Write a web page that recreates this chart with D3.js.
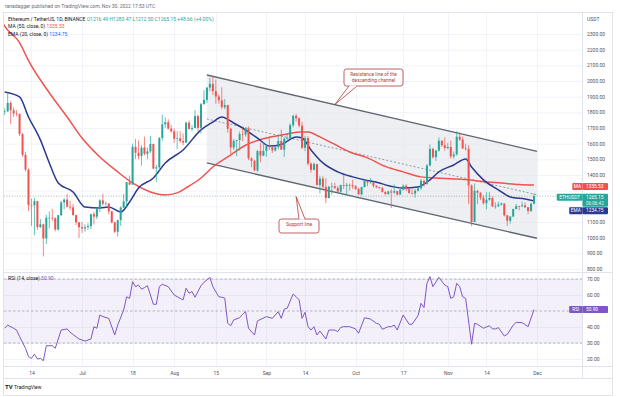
<!DOCTYPE html>
<html>
<head>
<meta charset="utf-8">
<script src="https://cdn.jsdelivr.net/npm/d3@7"></script>
<style>
  body { margin: 0; background: #fff; }
  svg text { font-family: Roboto, "Liberation Sans", sans-serif; }
</style>
</head>
<body>
<svg id="chart" width="620" height="397"></svg>
<script>
// daily candles: [date, open, high, low, close]
const candles = [
  ["06-05",1803,1825,1783,1806],["06-06",1806,1918,1803,1860],["06-07",1860,1870,1725,1813],
  ["06-08",1813,1832,1770,1793],["06-09",1793,1815,1774,1790],["06-10",1790,1792,1650,1661],
  ["06-11",1661,1668,1517,1529],["06-12",1529,1548,1423,1435],["06-13",1435,1441,1170,1208],
  ["06-14",1208,1250,1075,1207],["06-15",1207,1255,1016,1233],["06-16",1233,1236,1050,1068],
  ["06-17",1068,1119,1060,1085],["06-18",1085,1090,880,995],["06-19",995,1145,960,1127],
  ["06-20",1127,1168,1060,1127],["06-21",1127,1183,1107,1124],["06-22",1124,1130,1040,1052],
  ["06-23",1052,1145,1045,1143],["06-24",1143,1235,1140,1225],["06-25",1225,1250,1180,1243],
  ["06-26",1243,1280,1192,1198],["06-27",1198,1235,1175,1193],["06-28",1193,1215,1140,1144],
  ["06-29",1144,1146,1081,1098],["06-30",1098,1100,998,1067],["07-01",1067,1100,1030,1059],
  ["07-02",1059,1085,1037,1067],["07-03",1067,1092,1050,1074],["07-04",1074,1153,1055,1150],
  ["07-05",1150,1165,1085,1134],["07-06",1134,1192,1118,1186],["07-07",1186,1245,1165,1238],
  ["07-08",1238,1280,1205,1216],["07-09",1216,1230,1205,1218],["07-10",1218,1222,1150,1168],
  ["07-11",1168,1172,1092,1097],["07-12",1097,1102,1030,1038],["07-13",1038,1115,1006,1112],
  ["07-14",1112,1200,1075,1192],["07-15",1192,1280,1190,1232],["07-16",1232,1355,1190,1354],
  ["07-17",1354,1395,1335,1339],["07-18",1339,1600,1338,1580],["07-19",1580,1630,1502,1542],
  ["07-20",1542,1620,1500,1521],["07-21",1521,1590,1460,1575],["07-22",1575,1645,1525,1535],
  ["07-23",1535,1575,1500,1551],["07-24",1551,1650,1540,1598],["07-25",1598,1600,1435,1441],
  ["07-26",1441,1465,1357,1449],["07-27",1449,1642,1425,1636],["07-28",1636,1784,1620,1723],
  ["07-29",1723,1767,1700,1737],["07-30",1737,1756,1690,1696],["07-31",1696,1720,1670,1679],
  ["08-01",1679,1697,1605,1632],["08-02",1632,1680,1565,1634],["08-03",1634,1680,1605,1617],
  ["08-04",1617,1665,1590,1607],["08-05",1607,1740,1605,1734],["08-06",1734,1747,1690,1694],
  ["08-07",1694,1718,1680,1700],["08-08",1700,1815,1698,1776],["08-09",1776,1785,1680,1701],
  ["08-10",1701,1860,1665,1852],["08-11",1852,1942,1850,1880],["08-12",1880,1960,1860,1958],
  ["08-13",1958,2020,1935,1982],["08-14",1982,2030,1910,1935],["08-15",1935,2010,1855,1901],
  ["08-16",1901,1915,1855,1877],["08-17",1877,1960,1820,1833],["08-18",1833,1885,1820,1846],
  ["08-19",1846,1848,1670,1695],["08-20",1695,1702,1535,1576],["08-21",1576,1630,1560,1618],
  ["08-22",1618,1625,1520,1623],["08-23",1623,1678,1555,1661],["08-24",1661,1702,1616,1658],
  ["08-25",1658,1705,1645,1696],["08-26",1696,1710,1495,1507],["08-27",1507,1512,1450,1490],
  ["08-28",1490,1497,1425,1429],["08-29",1429,1560,1420,1553],["08-30",1553,1605,1480,1524],
  ["08-31",1524,1610,1520,1554],["09-01",1554,1595,1515,1586],["09-02",1586,1645,1560,1577],
  ["09-03",1577,1580,1540,1557],["09-04",1557,1580,1550,1577],["09-05",1577,1650,1565,1617],
  ["09-06",1617,1690,1560,1562],["09-07",1562,1645,1515,1631],["09-08",1631,1668,1610,1635],
  ["09-09",1635,1730,1630,1718],["09-10",1718,1785,1705,1777],["09-11",1777,1790,1740,1762],
  ["09-12",1762,1768,1703,1715],["09-13",1715,1740,1565,1574],["09-14",1574,1650,1552,1636],
  ["09-15",1636,1650,1460,1472],["09-16",1472,1480,1415,1433],["09-17",1433,1480,1430,1470],
  ["09-18",1470,1472,1333,1336],["09-19",1336,1395,1282,1377],["09-20",1377,1392,1310,1324],
  ["09-21",1324,1380,1220,1253],["09-22",1253,1330,1250,1326],["09-23",1326,1350,1275,1328],
  ["09-24",1328,1350,1310,1317],["09-25",1317,1332,1290,1294],["09-26",1294,1340,1280,1335],
  ["09-27",1335,1400,1310,1330],["09-28",1330,1350,1270,1337],["09-29",1337,1345,1300,1335],
  ["09-30",1335,1370,1310,1328],["10-01",1328,1335,1305,1311],["10-02",1311,1318,1275,1276],
  ["10-03",1276,1325,1270,1323],["10-04",1323,1365,1320,1362],["10-05",1362,1365,1328,1352],
  ["10-06",1352,1380,1345,1352],["10-07",1352,1358,1320,1331],["10-08",1331,1335,1315,1322],
  ["10-09",1322,1325,1310,1316],["10-10",1316,1325,1288,1292],["10-11",1292,1295,1270,1279],
  ["10-12",1279,1300,1273,1295],["10-13",1295,1310,1190,1288],["10-14",1288,1340,1280,1297],
  ["10-15",1297,1300,1270,1275],["10-16",1275,1312,1275,1306],["10-17",1306,1340,1300,1331],
  ["10-18",1331,1340,1297,1310],["10-19",1310,1311,1280,1285],["10-20",1285,1311,1275,1282],
  ["10-21",1282,1310,1255,1300],["10-22",1300,1320,1295,1315],["10-23",1315,1375,1305,1363],
  ["10-24",1363,1370,1325,1344],["10-25",1344,1470,1337,1460],["10-26",1460,1595,1455,1566],
  ["10-27",1566,1575,1505,1514],["10-28",1514,1560,1490,1555],["10-29",1555,1640,1550,1619],
  ["10-30",1619,1620,1580,1590],["10-31",1590,1640,1555,1572],["11-01",1572,1605,1565,1579],
  ["11-02",1579,1620,1505,1519],["11-03",1519,1550,1505,1531],["11-04",1531,1680,1525,1644],
  ["11-05",1644,1672,1617,1626],["11-06",1626,1645,1565,1570],["11-07",1570,1600,1555,1567],
  ["11-08",1567,1590,1215,1334],["11-09",1334,1340,1073,1100],["11-10",1100,1345,1100,1299],
  ["11-11",1299,1305,1215,1287],["11-12",1287,1290,1240,1255],["11-13",1255,1270,1210,1220],
  ["11-14",1220,1290,1180,1242],["11-15",1242,1290,1235,1253],["11-16",1253,1263,1195,1200],
  ["11-17",1200,1225,1185,1201],["11-18",1201,1230,1195,1211],["11-19",1211,1225,1205,1218],
  ["11-20",1218,1220,1135,1142],["11-21",1142,1145,1075,1108],["11-22",1108,1138,1090,1135],
  ["11-23",1135,1185,1130,1183],["11-24",1183,1215,1180,1202],["11-25",1202,1205,1175,1200],
  ["11-26",1200,1230,1195,1206],["11-27",1206,1225,1190,1194],["11-28",1194,1195,1150,1170],
  ["11-29",1170,1225,1165,1216.49],["11-30",1216.49,1283.47,1212.50,1265.15]
];

// MA (50)
const ma50 = [
  ["06-03",2420],["06-05",2350],["06-10",2245],["06-13",2130],["06-20",1925],["06-26",1770],
  ["07-01",1636],["07-07",1515],["07-13",1420],["07-18",1349],["07-24",1292],["07-29",1273],
  ["08-02",1286],["08-05",1318],["08-10",1381],["08-14",1451],["08-19",1515],["08-25",1590],
  ["09-01",1636],["09-07",1658],["09-12",1675],["09-15",1675],["09-19",1643],["09-23",1605],
  ["09-29",1547],["10-05",1509],["10-11",1455],["10-17",1420],["10-23",1388],["10-28",1381],
  ["11-03",1375],["11-08",1369],["11-14",1356],["11-19",1349],["11-25",1339],["11-30",1335.53]
];

// EMA (20)
const ema20 = [
  ["06-05",1930],["06-10",1898],["06-13",1770],["06-17",1624],["06-20",1477],["06-23",1349],
  ["06-28",1292],["07-02",1196],["07-07",1190],["07-10",1196],["07-14",1164],["07-17",1228],
  ["07-20",1317],["07-25",1381],["07-29",1477],["08-04",1560],["08-10",1688],["08-14",1738],
  ["08-17",1770],["08-21",1732],["08-24",1700],["08-29",1636],["09-02",1585],["09-06",1595],
  ["09-11",1643],["09-13",1636],["09-16",1560],["09-20",1477],["09-25",1420],["09-30",1388],
  ["10-04",1369],["10-09",1349],["10-11",1337],["10-17",1317],["10-22",1324],["10-26",1369],
  ["10-29",1420],["11-03",1464],["11-07",1502],["11-09",1451],["11-13",1369],["11-18",1305],
  ["11-22",1260],["11-27",1247],["11-30",1234.75]
];

// RSI (14)
const rsi14 = [
  ["06-05",39.2],["06-06",41.2],["06-08",39.2],["06-09",38.1],["06-10",34],["06-12",26.7],
  ["06-13",21.5],["06-14",20.4],["06-15",23],["06-16",20],["06-17",20.4],["06-18",18.9],
  ["06-19",28.3],["06-21",28.3],["06-22",26.7],["06-24",38.1],["06-26",38.8],["06-27",36.7],
  ["06-30",32.5],["07-02",31.2],["07-04",32.5],["07-05",40.2],["07-06",39.2],["07-07",47.5],
  ["07-08",46.5],["07-10",45.4],["07-12",35],["07-13",41.2],["07-15",50.6],["07-16",58.9],
  ["07-17",57.9],["07-18",68.3],["07-19",65.2],["07-20",66.2],["07-21",63.7],["07-22",64.6],
  ["07-23",65.8],["07-25",54.2],["07-26",54.2],["07-27",65.2],["07-28",66.7],["07-30",65.2],
  ["08-01",60],["08-03",57.9],["08-04",57],["08-05",64.2],["08-06",61.1],["08-07",62.1],
  ["08-08",58.6],["08-10",65.8],["08-11",67.9],["08-13",71],["08-14",65.2],["08-16",58.9],
  ["08-17",58.6],["08-18",58],["08-19",42.3],["08-20",40.8],["08-21",44.4],["08-23",45.8],
  ["08-24",47.9],["08-25",49.6],["08-26",39.2],["08-28",35],["08-29",43.8],["09-01",46.5],
  ["09-03",45.4],["09-05",49.6],["09-06",45.4],["09-07",51.2],["09-08",51.7],["09-10",60.6],
  ["09-11",58.9],["09-12",57],["09-13",45.4],["09-14",49.2],["09-15",40.2],["09-16",38.1],
  ["09-17",40.2],["09-18",35],["09-19",37.5],["09-21",32.5],["09-22",38.1],["09-24",38.1],
  ["09-25",37.1],["09-26",39.8],["09-27",40.2],["09-29",40.2],["10-01",38.8],["10-02",36.1],
  ["10-04",45.8],["10-06",45],["10-08",42.3],["10-09",41.7],["10-10",38.6],["10-12",40.2],
  ["10-13",40.2],["10-14",41.2],["10-15",38.1],["10-17",47.5],["10-19",41.7],["10-20",41.7],
  ["10-22",47.1],["10-23",54.8],["10-24",52.1],["10-25",67.3],["10-26",71.5],["10-27",65.2],
  ["10-29",71],["10-31",66.2],["11-01",65.2],["11-02",57.9],["11-03",58.9],["11-04",67.3],
  ["11-05",65.2],["11-06",58.9],["11-07",57.9],["11-09",29.2],["11-10",42.3],["11-11",41.7],
  ["11-13",39.2],["11-15",40.8],["11-16",38.8],["11-17",38.8],["11-18",39.6],["11-20",34.4],
  ["11-21",35.4],["11-23",41.2],["11-24",42.9],["11-26",42.7],["11-27",41.5],["11-28",40.2],
  ["11-30",50.9]
];

// descending channel drawn on the chart
const channelUpper = [["08-12",2038],["12-01",1551]];
const channelLower = [["08-12",1477],["12-01",996]];

const priceGrid = [800,900,1000,1100,1200,1300,1400,1500,1600,1700,1800,1900,2000,2100,2200,2300];
// 1200 and 1300 sit under the price badges
const priceLabels = [800,900,1000,1100,1400,1500,1600,1700,1800,1900,2000,2100,2200,2300];
const rsiTicks = [20,30,40,60,70];
const rsiLevels = [70,50,30];
const timeTicks = [["06-14","14"],["07-01","Jul"],["07-18","18"],["08-01","Aug"],["08-15","15"],
  ["09-01","Sep"],["09-14","14"],["10-01","Oct"],["10-17","17"],["11-01","Nov"],["11-14","14"],["12-01","Dec"]];

const lastClose = 1265.15, lastMA = 1335.53, lastEMA = 1234.75, lastRSI = 50.90;

const UP = "#26a69a", DOWN = "#ef5350", MA_C = "#ef5350", EMA_C = "#2b3a8f", RSI_C = "#7e57c2";
const GRID = "#f0f3fa", BORDER = "#e0e3eb", TXT = "#50535e";

const parse = d3.utcParse("%Y-%m-%d");
const day = s => parse("2022-" + s);

const left = 4, right = 582.5, pTop = 13, pBot = 272.5, rTop = 272.5, rBot = 366.5, tBot = 378.5;

const x = d3.scaleUtc().domain([day("06-01"), day("12-01")]).range([-7.2, 537]);
const y = d3.scaleLinear().domain([800, 2300]).range([269, 34]);
const yr = d3.scaleLinear().domain([20, 70]).range([359, 279]);

const svg = d3.select("#chart");
const defs = svg.append("defs");
defs.append("clipPath").attr("id", "clipP").append("rect")
  .attr("x", left).attr("y", pTop).attr("width", right - left).attr("height", pBot - pTop);
defs.append("clipPath").attr("id", "clipR").append("rect")
  .attr("x", left).attr("y", rTop).attr("width", right - left).attr("height", rBot - rTop);

svg.append("rect").attr("width", 620).attr("height", 397).attr("fill", "#fff");

// header
svg.append("text").attr("x", 5).attr("y", 8).attr("font-size", 5).attr("fill", "#6a6d78")
  .text("ranadagger published on TradingView.com, Nov 30, 2022 17:53 UTC");

// grid
const gridP = svg.append("g").attr("clip-path", "url(#clipP)");
gridP.selectAll("line.h").data(priceGrid).enter().append("line")
  .attr("x1", left).attr("x2", right).attr("y1", d => y(d) + 0.5).attr("y2", d => y(d) + 0.5)
  .attr("stroke", GRID);
const gridV = svg.append("g");
gridV.selectAll("line").data(timeTicks).enter().append("line")
  .attr("x1", d => Math.round(x(day(d[0]))) + 0.5).attr("x2", d => Math.round(x(day(d[0]))) + 0.5)
  .attr("y1", pTop).attr("y2", rBot).attr("stroke", GRID);
const gridR = svg.append("g").attr("clip-path", "url(#clipR)");
gridR.selectAll("line").data(rsiTicks).enter().append("line")
  .attr("x1", left).attr("x2", right).attr("y1", d => yr(d) + 0.5).attr("y2", d => yr(d) + 0.5)
  .attr("stroke", GRID);

// price pane
const pane = svg.append("g").attr("clip-path", "url(#clipP)");

// channel shading + lines
const chanPoly = [
  [x(day(channelUpper[0][0])), y(channelUpper[0][1])],
  [x(day(channelUpper[1][0])), y(channelUpper[1][1])],
  [x(day(channelLower[1][0])), y(channelLower[1][1])],
  [x(day(channelLower[0][0])), y(channelLower[0][1])]
];
pane.append("polygon").attr("points", chanPoly.map(p => p.join(",")).join(" "))
  .attr("fill", "#e1e4ea").attr("fill-opacity", 0.6);
const chanLine = d3.line().x(d => x(day(d[0]))).y(d => y(d[1]));
[channelUpper, channelLower].forEach(c => {
  pane.append("path").attr("d", chanLine(c)).attr("fill", "none")
    .attr("stroke", "#5f6670").attr("stroke-width", 1.4);
});
const channelMid = channelUpper.map((d, i) => [d[0], (d[1] + channelLower[i][1]) / 2]);
pane.append("path").attr("d", chanLine(channelMid)).attr("fill", "none")
  .attr("stroke", "#8a9099").attr("stroke-width", 0.9).attr("stroke-dasharray", "2,2");

// last price dotted line
pane.append("line").attr("x1", left).attr("x2", right)
  .attr("y1", y(lastClose)).attr("y2", y(lastClose))
  .attr("stroke", "#8fa6a3").attr("stroke-width", 0.8).attr("stroke-dasharray", "1,1.6");

// moving averages
const ind = d3.line().x(d => x(day(d[0]))).y(d => y(d[1])).curve(d3.curveMonotoneX);
pane.append("path").attr("d", ind(ma50)).attr("fill", "none").attr("stroke", MA_C).attr("stroke-width", 1.5);
pane.append("path").attr("d", ind(ema20)).attr("fill", "none").attr("stroke", EMA_C).attr("stroke-width", 1.5);

// candles
const cg = pane.append("g");
const bw = 2;
const cs = cg.selectAll("g").data(candles).enter().append("g")
  .attr("fill", d => d[4] >= d[1] ? UP : DOWN).attr("stroke", d => d[4] >= d[1] ? UP : DOWN);
cs.append("line")
  .attr("x1", d => x(day(d[0]))).attr("x2", d => x(day(d[0])))
  .attr("y1", d => y(d[2])).attr("y2", d => y(d[3])).attr("stroke-width", 0.7);
cs.append("rect")
  .attr("x", d => x(day(d[0])) - bw / 2).attr("width", bw)
  .attr("y", d => y(Math.max(d[1], d[4])))
  .attr("height", d => Math.max(0.6, Math.abs(y(d[1]) - y(d[4]))))
  .attr("stroke", "none");

// RSI pane
const rp = svg.append("g").attr("clip-path", "url(#clipR)");
rp.append("rect").attr("x", left).attr("width", right - left)
  .attr("y", yr(70)).attr("height", yr(30) - yr(70)).attr("fill", RSI_C).attr("fill-opacity", 0.09);
rp.selectAll("line.lvl").data(rsiLevels).enter().append("line")
  .attr("x1", left).attr("x2", right).attr("y1", d => yr(d)).attr("y2", d => yr(d))
  .attr("stroke", "#a3a6af").attr("stroke-width", 0.8).attr("stroke-dasharray", "2.5,2");
rp.append("path").attr("d", d3.line().x(d => x(day(d[0]))).y(d => yr(d[1]))(rsi14))
  .attr("fill", "none").attr("stroke", RSI_C).attr("stroke-width", 1);

// frame
svg.append("rect").attr("x", 3.5).attr("y", 12.5).attr("width", 609).attr("height", tBot - 12.5)
  .attr("fill", "none").attr("stroke", BORDER);
[rTop, rBot].forEach(v => svg.append("line").attr("x1", 3.5).attr("x2", 612.5)
  .attr("y1", v).attr("y2", v).attr("stroke", BORDER));
svg.append("line").attr("x1", right).attr("x2", right).attr("y1", 12.5).attr("y2", tBot).attr("stroke", BORDER);
svg.append("line").attr("x1", 3.5).attr("x2", 612.5).attr("y1", 395.5).attr("y2", 395.5).attr("stroke", BORDER);
svg.append("line").attr("x1", 3.5).attr("x2", 3.5).attr("y1", tBot).attr("y2", 395.5).attr("stroke", BORDER);
svg.append("line").attr("x1", 612.5).attr("x2", 612.5).attr("y1", tBot).attr("y2", 395.5).attr("stroke", BORDER);

// price axis
const pAxis = svg.append("g").attr("transform", `translate(${right},0)`)
  .call(d3.axisRight(y).tickValues(priceLabels).tickFormat(d3.format(".2f")).tickSize(0).tickPadding(4.5));
pAxis.select(".domain").remove();
pAxis.selectAll("text").attr("font-size", 5).attr("fill", TXT).attr("font-family", "Roboto, sans-serif");
svg.append("text").attr("x", right + 4.5).attr("y", 20.5).attr("font-size", 5).attr("fill", TXT).text("USDT");

// rsi axis
const rAxis = svg.append("g").attr("transform", `translate(${right},0)`)
  .call(d3.axisRight(yr).tickValues(rsiTicks).tickFormat(d3.format(".2f")).tickSize(0).tickPadding(4.5));
rAxis.select(".domain").remove();
rAxis.selectAll("text").attr("font-size", 5).attr("fill", TXT).attr("font-family", "Roboto, sans-serif");

// time axis
const tmap = new Map(timeTicks.map(d => [+day(d[0]), d[1]]));
const tAxis = svg.append("g").attr("transform", `translate(0,${rBot})`)
  .call(d3.axisBottom(x).tickValues(timeTicks.map(d => day(d[0]))).tickFormat(d => tmap.get(+d)).tickSize(0).tickPadding(4.5));
tAxis.select(".domain").remove();
tAxis.selectAll("text").attr("font-size", 5).attr("fill", TXT).attr("font-family", "Roboto, sans-serif");

// axis badges (TradingView pushes them apart so they do not overlap)
function badge(yc, name, value, color, extra) {
  const h = extra ? 13 : 7;
  const top = yc - 3.5;
  if (name) {
    const w = name.length * 3.1 + 4;
    svg.append("rect").attr("x", right - w).attr("y", top).attr("width", w).attr("height", 7)
      .attr("fill", color).attr("rx", 0.8);
    svg.append("text").attr("x", right - w / 2).attr("y", top + 5.1).attr("text-anchor", "middle")
      .attr("font-size", 4.8).attr("fill", "#fff").text(name);
  }
  svg.append("rect").attr("x", right).attr("y", top).attr("width", 25.5).attr("height", h)
    .attr("fill", color).attr("rx", 0.8);
  svg.append("text").attr("x", right + 3.5).attr("y", top + 5.1)
    .attr("font-size", 4.8).attr("fill", "#fff").text(value);
  if (extra) svg.append("text").attr("x", right + 3.5).attr("y", top + 11)
    .attr("font-size", 4.6).attr("fill", "#e6f5f3").text(extra);
}
badge(y(lastMA) + 1.5, "MA", d3.format(".2f")(lastMA), MA_C);
badge(y(lastClose) + 1, "ETHUSDT", d3.format(".2f")(lastClose), UP, "06:06:42");
badge(y(lastClose) + 14.5, "EMA", d3.format(".2f")(lastEMA), EMA_C);
badge(yr(lastRSI), "RSI", d3.format(".2f")(lastRSI), RSI_C);

// legends
const lg = svg.append("g").attr("font-size", 5);
const l1 = lg.append("text").attr("x", 8).attr("y", 20.5);
l1.append("tspan").attr("fill", "#131722").text("Ethereum / TetherUS, 1D, BINANCE  ");
l1.append("tspan").attr("fill", UP).text("O1216.49  H1283.47  L1212.50  C1265.15  +48.66 (+4.00%)");
const l2 = lg.append("text").attr("x", 8).attr("y", 28);
l2.append("tspan").attr("fill", "#131722").text("MA (50, close, 0)  ");
l2.append("tspan").attr("fill", MA_C).text("1335.53");
const l3 = lg.append("text").attr("x", 8).attr("y", 35.5);
l3.append("tspan").attr("fill", "#131722").text("EMA (20, close, 0)  ");
l3.append("tspan").attr("fill", "#2962ff").text("1234.75");
const l4 = lg.append("text").attr("x", 8).attr("y", 280);
l4.append("tspan").attr("fill", "#131722").text("RSI (14, close)  ");
l4.append("tspan").attr("fill", RSI_C).text("50.90");

// callouts
function callout(tip, box, tail, lines) {
  const [bx, by, bw2, bh] = box;
  const g = svg.append("g");
  g.append("rect").attr("x", bx).attr("y", by).attr("width", bw2).attr("height", bh).attr("rx", 2.5)
    .attr("fill", "#fff").attr("stroke", "#b23a3a").attr("stroke-width", 0.8);
  g.append("path").attr("d", `M${tail[0][0]},${tail[0][1]} L${tip[0]},${tip[1]} L${tail[1][0]},${tail[1][1]}`)
    .attr("fill", "#fff").attr("stroke", "#b23a3a").attr("stroke-width", 0.8);
  g.append("line").attr("x1", tail[0][0] + 0.6).attr("x2", tail[1][0] - 0.6)
    .attr("y1", tail[0][1]).attr("y2", tail[1][1]).attr("stroke", "#fff").attr("stroke-width", 1.2);
  lines.forEach((t, i) => g.append("text").attr("x", bx + bw2 / 2).attr("y", by + 7 + i * 6)
    .attr("text-anchor", "middle").attr("font-size", 4.9).attr("fill", "#b23a3a").text(t));
}
// resistance tip sits on the upper channel line
const rTipX = x(day("09-24"));
const rTipY = d3.scaleLinear().domain([x(day(channelUpper[0][0])), x(day(channelUpper[1][0]))])
  .range([y(channelUpper[0][1]), y(channelUpper[1][1])])(rTipX);
callout([rTipX, rTipY], [344, 69, 59, 17], [[349, 86], [357, 86]],
  ["Resistance line of the", "descending channel"]);
const sTip = [x(day("09-11")), y(1262)];
callout(sTip, [279, 219, 40, 14], [[299, 219], [305, 219]], ["Support line"]);

// footer logo
svg.append("text").attr("x", 5).attr("y", 389).attr("font-size", 6).attr("font-weight", "bold")
  .attr("fill", "#131722").text("TV");
svg.append("text").attr("x", 14).attr("y", 389).attr("font-size", 5).attr("fill", "#131722").text("TradingView");
</script>
</body>
</html>
